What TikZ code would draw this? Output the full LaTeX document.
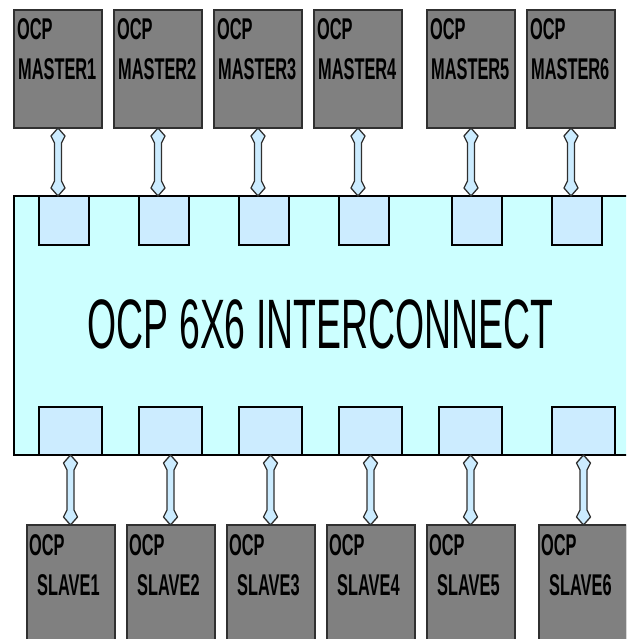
\documentclass[tikz,border=0pt]{standalone}
\usepackage{fontspec}
\setmainfont{Liberation Sans}
\usepackage{graphicx}
\usetikzlibrary{calc}
\definecolor{boxgray}{HTML}{808080}
\definecolor{boxline}{HTML}{303030}
\definecolor{icfill}{HTML}{CCFFFF}
\definecolor{portfill}{HTML}{CCECFF}
\definecolor{arrfill}{HTML}{CCECFF}
\newcommand\biarrow[2]{%
  \path[arrowsty] let \p1=(#1), \p2=(#2) in
    (\x1,\y1) -- (\x1+7pt,\y1-8pt) -- (\x1+3.5pt,\y1-15pt) --
    (\x1+3.5pt,\y2+15pt) -- (\x1+7pt,\y2+8pt) -- (\x1,\y2) --
    (\x1-7pt,\y2+8pt) -- (\x1-3.5pt,\y2+15pt) --
    (\x1-3.5pt,\y1-15pt) -- (\x1-7pt,\y1-8pt) -- cycle;}
\newcommand\lbl[1]{\scalebox{0.545}[1]{#1}}
\begin{document}
\begin{tikzpicture}[x=1pt,y=-1pt,
  mbox/.style={draw=boxline, line width=1.3pt, fill=boxgray, minimum width=88pt,
    minimum height=118pt, anchor=north west, inner sep=0pt, outer sep=0pt},
  sbox/.style={mbox, minimum height=130pt},
  icbox/.style={draw=black, line width=1.3pt, fill=icfill, minimum width=640pt,
    minimum height=259pt, anchor=north west, inner sep=0pt, outer sep=0pt},
  tport/.style={draw=black, line width=1.2pt, fill=portfill, minimum width=50pt,
    minimum height=49pt, anchor=north west, inner sep=0pt, outer sep=0pt},
  bport/.style={tport, minimum width=63pt, minimum height=48pt, anchor=south west},
  boxtext/.style={anchor=base west, inner sep=0pt, text=black,
    font=\fontsize{30}{30}\selectfont\bfseries},
  arrowsty/.style={draw=boxline, line width=1.3pt, fill=arrfill, line join=round}]
\useasboundingbox (0,0) rectangle (626,639);
\clip (0,0) rectangle (626,639);
\fill[white] (0,0) rectangle (626,639);
% interconnect
\node[icbox] (ic) at (14,196) {};
\node (ictext) at (320.5,348) [anchor=base, inner sep=0pt,
  font=\fontsize{70}{70}\selectfont] {\scalebox{0.534}[1]{OCP 6X6 INTERCONNECT}};
% top ports
\foreach \i/\x in {1/39,2/139,3/239,4/339,5/452,6/552}{
  \node[tport] (tp\i) at (\x,196) {};
}
% bottom ports
\foreach \i/\x in {1/39,2/139,3/239,4/339,5/439,6/552}{
  \node[bport] (bp\i) at (\x,455) {};
}
% masters
\foreach \i/\x in {1/14,2/114,3/214,4/314,5/427,6/527}{
  \node[mbox] (m\i) at (\x,10) {};
  \node[boxtext] (m\i a) at (\x+3,40) {\lbl{OCP}};
  \node[boxtext] (m\i b) at (\x+4,80) {\lbl{MASTER\i}};
  \biarrow{m\i.south}{m\i.south |- tp\i.north}
}
% slaves
\foreach \i/\x in {1/27,2/127,3/227,4/327,5/427,6/539}{
  \node[sbox] (s\i) at (\x,525) {};
  \node[boxtext] (s\i a) at (\x+2,555) {\lbl{OCP}};
  \node[boxtext] (s\i b) at (\x+10,595) {\lbl{SLAVE\i}};
  \biarrow{bp\i.south}{bp\i.south |- s\i.north}
}
\end{tikzpicture}
\end{document}
